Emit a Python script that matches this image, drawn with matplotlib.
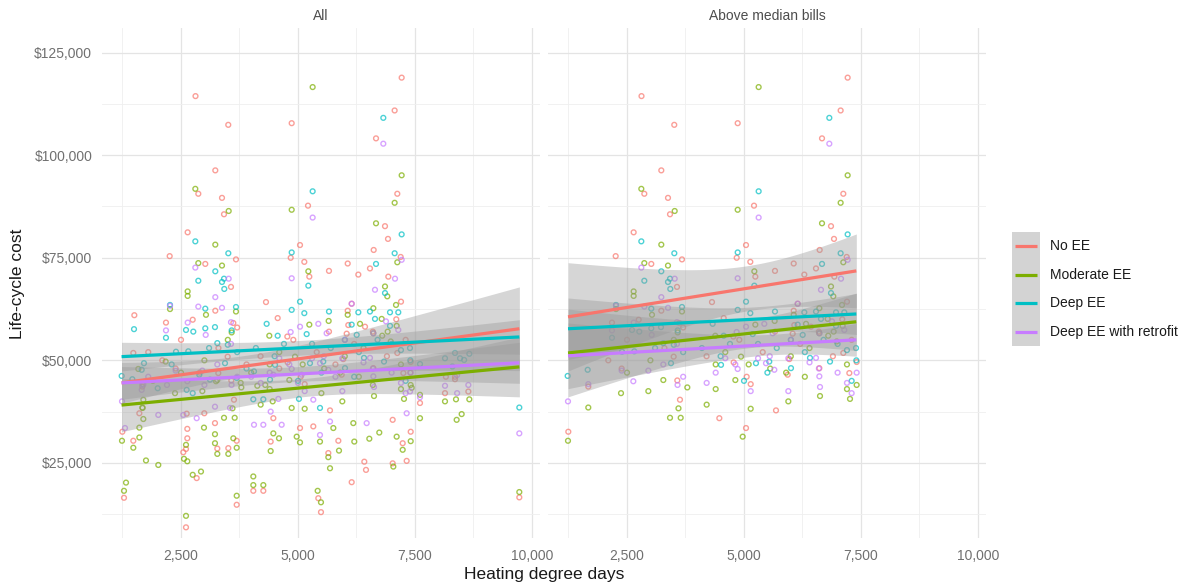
import numpy as np
import matplotlib
matplotlib.use("Agg")
import matplotlib.pyplot as plt
from matplotlib.patches import Rectangle
from matplotlib.ticker import FuncFormatter, FixedLocator

plt.rcParams["font.family"] = ["Liberation Sans", "DejaVu Sans"]

series = ["No EE", "Moderate EE", "Deep EE", "Deep EE with retrofit"]
colors = ["#F8766D", "#7CAE00", "#00BFC4", "#C77CFF"]
panels = ["All", "Above median bills"]

# Points: (heating degree days, life-cycle cost in $1000, 1 = also in "Above median bills")
pts_no_ee = [
    (2810, 114.4, 1), (7215, 118.9, 1), (3510, 107.4, 1), (4865, 107.8, 1), (7065, 110.9, 1),
    (6667, 104.1, 1), (3233, 96.3, 1), (2870, 90.6, 1), (3376, 89.6, 1), (7122, 90.6, 1),
    (5214, 87.7, 1), (3419, 85.6, 1), (6859, 82.7, 1), (2642, 81.2, 1), (6923, 79.6, 1),
    (5043, 78.1, 1), (6617, 76.9, 1), (2258, 75.4, 1), (7194, 75.2, 1), (4844, 75.0, 1),
    (3675, 74.6, 1), (3019, 73.5, 1), (5135, 74.0, 1), (6062, 73.6, 1), (6538, 72.4, 1),
    (5662, 71.8, 1), (6289, 70.9, 1), (5242, 70.4, 1), (6930, 70.4, 1), (3568, 67.9, 1),
    (4316, 64.2, 1), (7201, 64.3, 1), (3233, 62.1, 1), (1503, 61.0, 0), (6062, 62.1, 1),
    (6147, 63.8, 1), (4566, 60.3, 1), (5662, 57.0, 1), (6075, 58.6, 1), (6432, 58.2, 1),
    (4772, 55.8, 1), (1246, 32.6, 1), (1610, 37.1, 0), (1481, 30.4, 0), (1282, 16.5, 0),
    (2635, 33.3, 0), (2635, 31.0, 0), (2607, 28.4, 0), (2549, 27.6, 0), (2835, 21.3, 0),
    (2607, 9.3, 0), (2998, 37.1, 0), (3226, 34.7, 0), (3276, 28.5, 0), (3511, 28.6, 0),
    (3690, 30.4, 0), (3690, 14.8, 0), (4045, 18.2, 0), (4259, 18.2, 0), (4473, 35.9, 1),
    (4416, 30.2, 0), (5043, 33.5, 1), (5327, 33.9, 0), (5434, 16.4, 0), (5491, 13.0, 0),
    (5648, 27.4, 0), (5862, 30.4, 0), (5684, 37.8, 1), (6147, 20.3, 0), (6417, 25.3, 0),
    (6453, 23.3, 0), (7023, 24.9, 0), (7023, 35.5, 0), (7237, 29.8, 0), (7322, 25.5, 0),
    (7408, 32.6, 0), (7607, 39.6, 0), (8141, 42.0, 0), (8160, 46.0, 0), (8355, 46.0, 0),
    (8640, 42.4, 0), (9729, 16.6, 0), (5143, 44.2, 1), (5933, 46.5, 1), (6610, 48.1, 1),
    (7251, 46.9, 1), (7407, 49.6, 1), (1673, 43.6, 1), (2386, 48.0, 1), (3575, 45.1, 1),
    (3632, 40.4, 1), (5057, 46.0, 1), (1800, 52.0, 0), (2100, 50.0, 1), (2500, 55.0, 1),
    (2900, 47.0, 0), (3300, 53.0, 1), (3700, 58.0, 1), (3900, 49.0, 0), (4200, 51.0, 1),
    (4600, 48.0, 0), (4900, 55.0, 1), (5400, 52.0, 1), (5800, 49.0, 0), (6200, 54.0, 1),
    (6600, 57.0, 1), (6900, 51.0, 1), (7100, 60.0, 1), (7300, 55.0, 1), (7400, 47.0, 0),
    (2179, 59.2, 1), (2750, 59.9, 1), (3618, 59.1, 1), (1481, 51.8, 0), (3297, 46.9, 0),
    (3497, 50.9, 1), (4779, 49.5, 1), (2621, 37.0, 0), (6040, 56.5, 1), (7122, 51.8, 1),
    (5969, 50.3, 1), (8355, 45.4, 0),
]
pts_moderate = [
    (5313, 116.6, 1), (7215, 95.1, 1), (2806, 91.8, 1), (7065, 88.4, 1), (4865, 86.7, 1),
    (3519, 86.4, 1), (6667, 83.4, 1), (3233, 78.2, 1), (2870, 73.7, 1), (7122, 73.9, 1),
    (3376, 73.1, 1), (5221, 71.7, 1), (6859, 68.0, 1), (6908, 65.6, 1), (2642, 66.8, 1),
    (2642, 65.7, 1), (7094, 63.5, 1), (2265, 62.5, 1), (3675, 61.9, 1), (6062, 61.1, 1),
    (6610, 62.7, 1), (5655, 59.6, 1), (6916, 57.0, 1), (1695, 40.4, 0), (1239, 30.4, 1),
    (1481, 28.7, 0), (1610, 31.2, 0), (1610, 33.6, 0), (1695, 35.7, 0), (1752, 25.6, 0),
    (2015, 24.5, 0), (1325, 20.2, 0), (1282, 18.2, 0), (2372, 42.0, 1), (2607, 29.4, 0),
    (2564, 26.0, 0), (2635, 25.4, 0), (2750, 22.1, 0), (2927, 22.9, 0), (2607, 12.1, 0),
    (2991, 33.6, 0), (3226, 32.0, 0), (3226, 29.8, 0), (3276, 27.2, 0), (3419, 36.0, 1),
    (3511, 27.2, 0), (3618, 31.0, 0), (3690, 28.7, 0), (3647, 36.0, 1), (3690, 17.0, 0),
    (4045, 21.7, 0), (4045, 19.6, 0), (4259, 19.6, 0), (4473, 32.2, 0), (4416, 27.9, 0),
    (4594, 31.0, 0), (4972, 31.4, 1), (5043, 30.0, 0), (5470, 30.2, 0), (5420, 18.2, 0),
    (5491, 15.4, 0), (5648, 26.4, 0), (5684, 23.7, 0), (5755, 33.5, 0), (5876, 28.0, 0),
    (6182, 34.7, 0), (6203, 30.2, 0), (6524, 30.9, 0), (6737, 32.4, 0), (7037, 24.1, 0),
    (7108, 31.4, 0), (7237, 28.2, 0), (7408, 30.3, 0), (7607, 35.9, 0), (8141, 40.0, 0),
    (8376, 40.5, 0), (8390, 35.5, 0), (8497, 36.9, 0), (8661, 40.5, 0), (9729, 17.9, 0),
    (1673, 38.5, 1), (2956, 42.5, 1), (3276, 45.2, 1), (3600, 38.3, 1), (3789, 43.4, 1),
    (4202, 39.2, 1), (4395, 43.0, 1), (4815, 45.2, 1), (5143, 38.2, 1), (5947, 40.0, 1),
    (6624, 41.3, 1), (7265, 40.6, 1), (7407, 44.0, 1), (7200, 43.0, 1), (5560, 48.0, 1),
    (5900, 47.0, 1), (6300, 46.0, 1), (4395, 49.0, 1), (1900, 45.0, 0), (2500, 47.0, 1),
    (3000, 50.0, 1), (3500, 55.0, 1), (4000, 47.0, 0), (4600, 52.0, 1), (5100, 49.0, 1),
    (6000, 51.0, 1), (6400, 53.0, 1), (6800, 56.0, 1), (7200, 49.0, 1), (4300, 44.0, 0),
    (5500, 42.0, 0), (6600, 44.0, 0), (3034, 61.1, 1), (3583, 56.8, 1), (4387, 56.0, 1),
    (5242, 58.7, 1), (2172, 49.7, 0), (1588, 47.9, 0), (1681, 38.4, 0), (3248, 44.9, 0),
    (3775, 44.5, 0), (4131, 43.8, 0), (4936, 50.9, 1), (4459, 40.0, 0), (4865, 38.4, 0),
    (6325, 58.9, 1), (6788, 60.1, 1), (7108, 58.4, 1), (6610, 56.6, 1), (6981, 54.6, 1),
    (7429, 43.3, 0), (7607, 41.6, 0),
]
pts_deep = [
    (6823, 109.1, 1), (5313, 91.2, 1), (7215, 80.7, 1), (2806, 79.0, 1), (3511, 76.1, 1),
    (4865, 76.3, 1), (7065, 76.1, 1), (6667, 73.5, 1), (3233, 71.7, 1), (3419, 69.9, 1),
    (3376, 69.1, 1), (3425, 67.4, 1), (2870, 69.4, 1), (5221, 68.2, 1), (6859, 66.4, 1),
    (5043, 64.3, 1), (7143, 61.7, 1), (3019, 62.6, 1), (3675, 63.0, 1), (4865, 62.3, 1),
    (5135, 61.5, 1), (1496, 57.6, 0), (5662, 61.9, 1), (6289, 61.7, 1), (6538, 61.9, 1),
    (6645, 60.1, 1), (2607, 57.4, 1), (3019, 57.8, 1), (3226, 58.1, 1), (3583, 57.3, 1),
    (2179, 55.5, 1), (4330, 58.9, 1), (4566, 56.0, 1), (1232, 46.2, 1), (1460, 45.4, 0),
    (1660, 47.7, 1), (1709, 49.3, 0), (2002, 43.2, 0), (2393, 52.1, 1), (2621, 42.8, 0),
    (2750, 42.0, 0), (3100, 53.0, 1), (3500, 53.8, 1), (3700, 52.0, 1), (4045, 40.5, 0),
    (4259, 40.5, 0), (4100, 53.0, 1), (4500, 51.0, 1), (4700, 54.0, 1), (5300, 54.0, 1),
    (5700, 53.0, 1), (6000, 55.0, 1), (6300, 52.0, 1), (6700, 55.0, 1), (7000, 54.0, 1),
    (7200, 52.5, 1), (7400, 50.0, 1), (8141, 50.5, 0), (8462, 50.5, 0), (8661, 51.6, 0),
    (8300, 48.5, 0), (9729, 38.5, 0), (5000, 45.0, 1), (5500, 47.0, 1), (6200, 46.0, 0),
    (3900, 48.0, 0), (2300, 49.0, 0), (7300, 45.0, 1), (2265, 63.5, 1), (2763, 57.0, 1),
    (5185, 56.4, 1), (3276, 54.2, 1), (2656, 52.2, 1), (2891, 46.5, 0), (3120, 45.3, 0),
    (3440, 49.3, 1), (3690, 45.7, 0), (4060, 47.3, 0), (4402, 45.3, 0), (4509, 48.9, 1),
    (5256, 49.3, 1), (5021, 40.6, 0), (5470, 38.4, 0), (6966, 61.7, 1), (6147, 58.7, 1),
    (6966, 58.4, 1), (6254, 56.2, 1), (7393, 53.0, 1), (6838, 49.7, 1), (6410, 50.6, 1),
    (5540, 49.7, 1), (6004, 48.1, 1), (7607, 49.1, 0), (8355, 51.8, 0), (8550, 50.1, 0),
]
pts_retrofit = [
    (6823, 102.8, 1), (5313, 84.8, 1), (7215, 74.5, 1), (2806, 72.6, 1), (3519, 69.9, 1),
    (4865, 70.0, 1), (7073, 69.9, 1), (6645, 67.2, 1), (3233, 65.4, 1), (2265, 63.3, 1),
    (2870, 63.1, 1), (3376, 62.8, 1), (6147, 63.8, 1), (6880, 59.5, 1), (5434, 58.9, 1),
    (5043, 58.2, 1), (3568, 59.3, 1), (2179, 57.3, 1), (6004, 55.0, 1), (1660, 42.8, 0),
    (1239, 40.0, 1), (1303, 33.5, 0), (2015, 36.7, 0), (2549, 36.7, 0), (2835, 35.9, 0),
    (3226, 38.7, 0), (4060, 34.3, 0), (4259, 34.3, 0), (4416, 37.5, 0), (5470, 31.8, 0),
    (5684, 35.1, 0), (6467, 34.7, 0), (7322, 37.1, 0), (8141, 43.8, 0), (8400, 42.0, 0),
    (8640, 44.0, 0), (9729, 32.2, 0), (7607, 41.0, 0), (1673, 44.2, 1), (2386, 47.5, 1),
    (2956, 47.5, 1), (3276, 49.0, 1), (3580, 44.0, 1), (3700, 46.0, 1), (4202, 44.5, 1),
    (4395, 47.0, 1), (4600, 50.5, 1), (4815, 49.0, 1), (5143, 42.5, 1), (5300, 50.5, 1),
    (5550, 51.0, 1), (5947, 42.5, 1), (5947, 50.5, 1), (6400, 49.5, 1), (6624, 43.5, 1),
    (7200, 44.5, 1), (7300, 42.0, 1), (7407, 47.0, 1), (1800, 46.0, 0), (2200, 44.0, 0),
    (3000, 44.0, 0), (4000, 46.0, 0), (5000, 44.5, 0), (5800, 46.0, 0), (6600, 48.0, 1),
    (7000, 47.0, 1), (2643, 59.2, 1), (3028, 56.2, 1), (4843, 56.9, 1), (3568, 54.0, 1),
    (1695, 44.1, 0), (2635, 44.9, 1), (4473, 46.5, 0), (4865, 47.9, 1), (5078, 46.5, 0),
    (5470, 49.3, 1), (4580, 40.6, 0), (5327, 40.4, 0), (3547, 38.4, 0), (4651, 34.3, 0),
    (7143, 57.4, 1), (5612, 56.6, 1), (6610, 56.6, 1), (6538, 50.6, 1), (5648, 47.7, 1),
    (6610, 46.1, 1), (8400, 46.4, 0), (7393, 42.4, 0),
]
points = [pts_no_ee, pts_moderate, pts_deep, pts_retrofit]

# Linear fits ($1000), per panel, per series
fit_x_all = (1230, 9730)
fit_start_all = [44.5, 39.1, 50.9, 44.5]
fit_end_all = [57.7, 48.4, 55.7, 49.4]
band_left_all = [5.0, 6.5, 3.5, 4.0]
band_min_all = [2.6, 2.2, 1.8, 1.8]
band_right_all = [10.2, 7.3, 4.2, 5.0]

fit_x_above = (1240, 7400)
fit_start_above = [60.6, 51.8, 57.7, 51.1]
fit_end_above = [71.8, 59.4, 61.3, 55.0]
band_left_above = [13.2, 10.7, 7.5, 8.0]
band_min_above = [5.5, 3.5, 3.0, 2.5]
band_right_above = [9.0, 7.0, 5.0, 4.0]

x_ticks = [2500, 5000, 7500, 10000]
y_ticks = [25000, 50000, 75000, 100000, 125000]

W, H = 1194, 586
fig = plt.figure(figsize=(W / 100, H / 100), dpi=100)


def fig_rect(x0, y0, x1, y1):
    return [x0 / W, 1 - y1 / H, (x1 - x0) / W, (y1 - y0) / H]


axes = [fig.add_axes(fig_rect(102, 28, 540, 538)),
        fig.add_axes(fig_rect(548, 28, 986, 538))]


def band(xl, xr, hl, hm, hr, xs):
    r = np.sqrt((hl ** 2 - hm ** 2) / (hr ** 2 - hm ** 2))
    xc = (xl + r * xr) / (1 + r)
    b = (hl ** 2 - hm ** 2) / (xc - xl) ** 2
    return np.sqrt(hm ** 2 + b * (xs - xc) ** 2)


fits = [
    (fit_x_all, fit_start_all, fit_end_all, band_left_all, band_min_all, band_right_all),
    (fit_x_above, fit_start_above, fit_end_above, band_left_above, band_min_above, band_right_above),
]

for pi, ax in enumerate(axes):
    ax.set_xlim(812, 10171)
    ax.set_ylim(6700, 131000)
    for s in ax.spines.values():
        s.set_visible(False)
    ax.set_facecolor("white")
    # grid
    for xv in [1250, 3750, 6250, 8750]:
        ax.axvline(xv, color="#efefef", lw=0.6, zorder=0)
    for xv in x_ticks:
        ax.axvline(xv, color="#e4e4e4", lw=0.9, zorder=0)
    for yv in [12500, 37500, 62500, 87500, 112500]:
        ax.axhline(yv, color="#efefef", lw=0.6, zorder=0)
    for yv in y_ticks:
        ax.axhline(yv, color="#e4e4e4", lw=0.9, zorder=0)

    # points
    for si, pts in enumerate(points):
        arr = np.array(pts, dtype=float)
        if pi == 1:
            arr = arr[arr[:, 2] == 1]
        ax.scatter(arr[:, 0], arr[:, 1] * 1000, s=12, facecolors="none",
                   edgecolors=colors[si], linewidths=1.0, alpha=0.7, zorder=2)

    # smooth lines with bands
    fx, fs, fe, bl, bm, br = fits[pi]
    xs = np.linspace(fx[0], fx[1], 80)
    for si in range(4):
        ys = fs[si] + (fe[si] - fs[si]) * (xs - fx[0]) / (fx[1] - fx[0])
        hw = band(fx[0], fx[1], bl[si], bm[si], br[si], xs)
        ax.fill_between(xs, (ys - hw) * 1000, (ys + hw) * 1000, color="#999999",
                        alpha=0.4, lw=0, zorder=3)
        ax.plot(xs, ys * 1000, color=colors[si], lw=2.3, zorder=4, solid_capstyle="butt")

    ax.xaxis.set_major_locator(FixedLocator(x_ticks))
    ax.xaxis.set_major_formatter(FuncFormatter(lambda v, p: f"{int(v):,}"))
    ax.yaxis.set_major_locator(FixedLocator(y_ticks))
    ax.yaxis.set_major_formatter(FuncFormatter(lambda v, p: f"${int(v):,}"))
    ax.tick_params(axis="both", length=0, labelsize=10, labelcolor="#707070")
    ax.tick_params(axis="x", pad=8)
    ax.tick_params(axis="y", pad=7)
    if pi == 1:
        ax.tick_params(axis="y", labelleft=False)

fig.text(321 / W, 1 - 16 / H, panels[0], ha="center", va="center", fontsize=10, color="#4d4d4d")
fig.text(767 / W, 1 - 16 / H, panels[1], ha="center", va="center", fontsize=10, color="#4d4d4d")
fig.text(544 / W, 1 - 574 / H, "Heating degree days", ha="center", va="center", fontsize=12.5, color="#1a1a1a")
fig.text(18 / W, 1 - 284 / H, "Life-cycle cost", ha="center", va="center", rotation=90,
         fontsize=12.5, color="#1a1a1a")

# legend (ggplot style: grey ribbon keys with coloured lines)
lax = fig.add_axes([0, 0, 1, 1], facecolor="none")
lax.set_xlim(0, W)
lax.set_ylim(H, 0)
lax.axis("off")
key_top, key_h = 232, 28.5
lax.add_patch(Rectangle((1012, key_top), 28, key_h * 4, facecolor="#d3d3d3", edgecolor="none"))
for i, name in enumerate(series):
    yc = key_top + key_h * (i + 0.5)
    lax.plot([1015, 1037], [yc, yc], color=colors[i], lw=2.3, solid_capstyle="butt")
    lax.text(1050, yc, name, ha="left", va="center", fontsize=10, color="#1a1a1a")

fig.savefig("out.png", dpi=100)
